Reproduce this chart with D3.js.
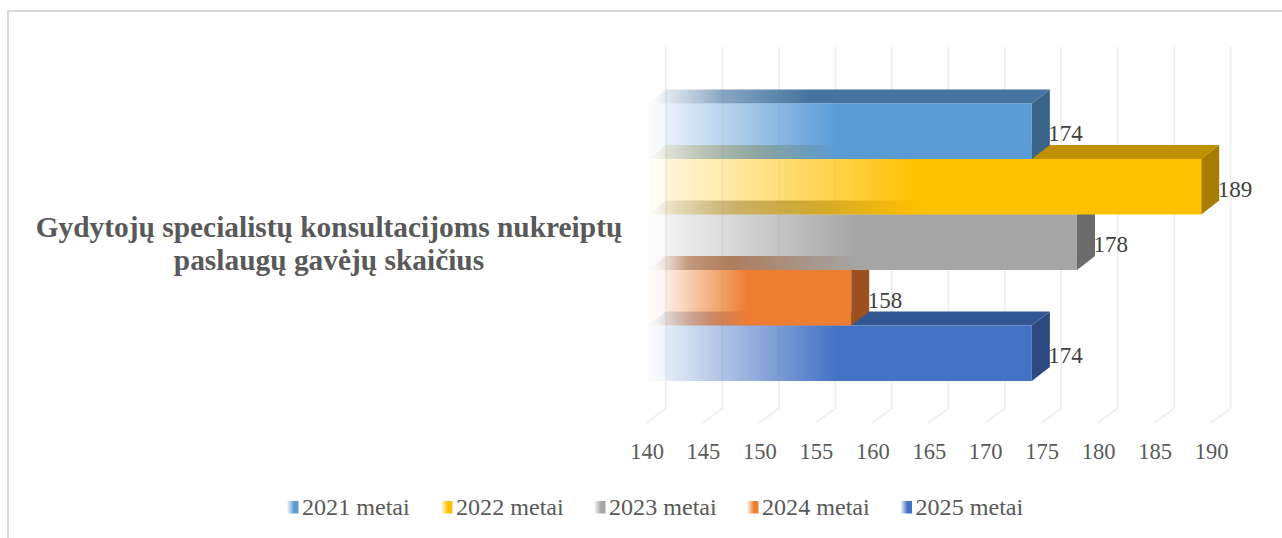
<!DOCTYPE html>
<html><head><meta charset="utf-8">
<script src="https://cdn.jsdelivr.net/npm/d3@7/dist/d3.min.js"></script>
<style>html,body{margin:0;padding:0;background:#fff;overflow:hidden}svg{display:block}text{font-family:"Liberation Serif",serif}</style>
</head><body><svg id="c" width="1282" height="538"></svg>
<script>
const seriesNames = ["2021 metai","2022 metai","2023 metai","2024 metai","2025 metai"];
const seriesValues = [174,189,178,158,174];
const axisTicks = [140,145,150,155,160,165,170,175,180,185,190];
const frontColors = ["#5B9BD5","#FFC000","#A5A5A5","#ED7D31","#4472C4"];
const topColors = ["#44749F","#BF9000","#7C7C7C","#B25E25","#335693"];
const sideColors = ["#3A6589","#A67D00","#6B6B6B","#9A511F","#2C4A80"];
const titleLines = ["Gydytojų specialistų konsultacijoms nukreiptų","paslaugų gavėjų skaičius"];

const svg = d3.select("#c"), defs = svg.append("defs");
const x = d3.scaleLinear().domain([140,190]).range([648,1212.5]);
const band = d3.scaleBand().domain(seriesNames).range([103.5,381]);
const dx = 18, dy = 14;
const grid = "#f0f0f0", text = "#595959", label = "#404040";

// frame
svg.append("path").attr("d","M8,538V11H1282").attr("fill","none").attr("stroke","#d9d9d9").attr("stroke-width",2);

// gridlines on back wall and floor
axisTicks.forEach(t=>{
  const gx = x(t)+dx;
  svg.append("path").attr("d",`M${gx},47V408.5L${gx-20},423`).attr("fill","none").attr("stroke",grid).attr("stroke-width",2);
});

// stops: [pixel position, opacity]
function grad(id,color,stops){
  const a = stops[0][0], b = stops[stops.length-1][0];
  const g = defs.append("linearGradient").attr("id",id).attr("gradientUnits","userSpaceOnUse")
    .attr("x1",a).attr("x2",b).attr("y1",0).attr("y2",0);
  stops.forEach(s=>g.append("stop").attr("offset",(s[0]-a)/(b-a)).attr("stop-color",color).attr("stop-opacity",s[1]));
  return `url(#${id})`;
}
const poly = pts => "M"+pts.map(p=>p.join(",")).join("L")+"Z";

// painted from the lowest bar upward: each upper bar hides the top face of the one below
d3.range(seriesNames.length-1,-1,-1).forEach(i=>{
  const name = seriesNames[i], v = seriesValues[i];
  const x0 = x(140), x1 = x(v), y0 = band(name), y1 = y0+band.bandwidth(), w = x1-x0;
  // top
  svg.append("path").attr("d",poly([[x0,y0],[x0+dx,y0-dy],[x1+dx,y0-dy],[x1,y0]]))
    .attr("fill",grad("t"+i,topColors[i],[[x0+6,0.03],[x0+dx,0.15],[x0+w*0.2,0.65],[x0+w*0.42,1]]));
  // right end
  svg.append("path").attr("d",poly([[x1,y0],[x1+dx,y0-dy],[x1+dx,y1-dy],[x1,y1]]))
    .attr("fill",sideColors[i]);
  // front: lighter column over the open end of the bar, then a ramp to solid
  svg.append("rect").attr("x",x0).attr("y",y0).attr("width",w).attr("height",y1-y0)
    .attr("fill",grad("f"+i,frontColors[i],[[x0,0.03],[x0+dx,0.07],[x0+dx,0.14],[x0+w*0.49,1]]));
});

// value labels
seriesNames.forEach((n,i)=>{
  svg.append("text").attr("x",x(seriesValues[i])+dx-1.5).attr("y",band(n)+band.bandwidth()/2+10)
    .attr("font-size",23).attr("fill",label).text(seriesValues[i]);
});

// axis tick labels
const axisG = svg.append("g").attr("transform","translate(-1.5,459)")
  .call(d3.axisBottom(x).tickValues(axisTicks).tickSize(0).tickPadding(0).tickFormat(d3.format("d")));
axisG.select(".domain").remove();
axisG.selectAll("text").attr("y",0).attr("dy",0).attr("font-size",22.5).attr("font-family",'"Liberation Serif",serif').attr("fill",text);

// category title
titleLines.forEach((l,i)=>{
  svg.append("text").attr("x",329).attr("y",237+i*32.5).attr("text-anchor","middle")
    .attr("font-size",29.4).attr("font-weight","bold").attr("fill",text).text(l);
});

// legend
const legendX = [287,441,594,747,900.5];
seriesNames.forEach((n,i)=>{
  const lx = legendX[i];
  svg.append("rect").attr("x",lx).attr("y",501).attr("width",11.5).attr("height",12.5)
    .attr("fill",grad("l"+i,frontColors[i],[[lx,0.03],[lx+7,1]]));
  svg.append("text").attr("x",lx+15).attr("y",515).attr("font-size",24.1).attr("fill",text).text(n);
});
</script></body></html>
